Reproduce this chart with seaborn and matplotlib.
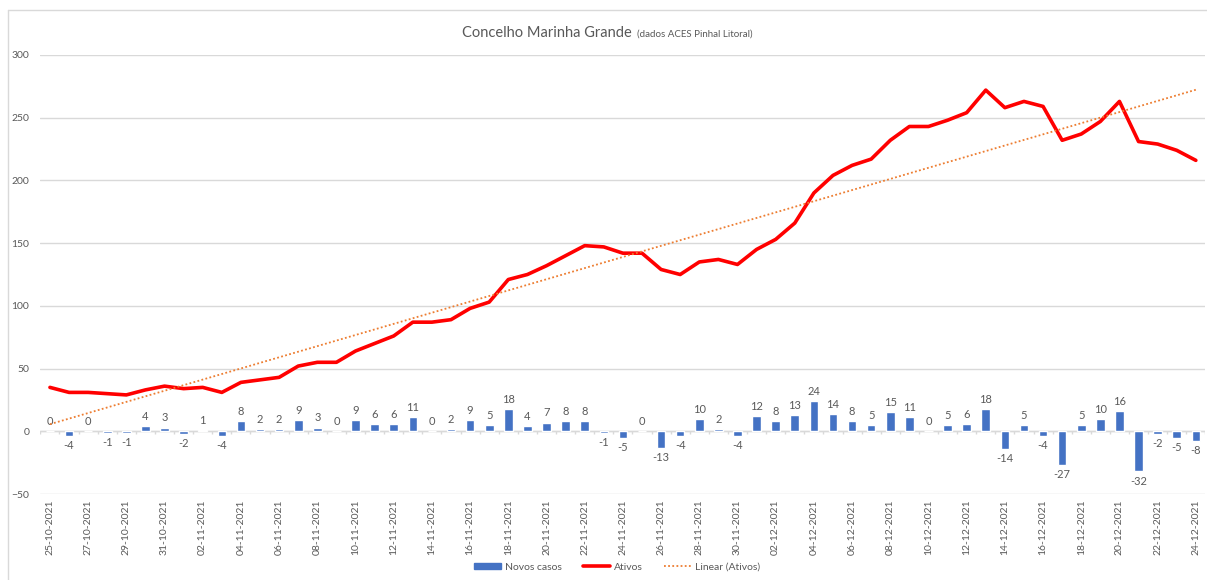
import numpy as np
import pandas as pd
import seaborn as sns
import matplotlib.pyplot as plt
from matplotlib.lines import Line2D
from matplotlib.patches import Patch

datas = pd.date_range('2021-10-25', '2021-12-24', freq='D').strftime('%d-%m-%Y').tolist()
novos_casos = [0, -4, 0, -1, -1, 4, 3, -2, 1, -4, 8, 2, 2, 9, 3, 0, 9, 6, 6, 11,
               0, 2, 9, 5, 18, 4, 7, 8, 8, -1, -5, 0, -13, -4, 10, 2, -4, 12, 8, 13,
               24, 14, 8, 5, 15, 11, 0, 5, 6, 18, -14, 5, -4, -27, 5, 10, 16, -32, -2, -5, -8]
ativos = [35, 31, 31, 30, 29, 33, 36, 34, 35, 31, 39, 41, 43, 52, 55, 55, 64, 70, 76, 87,
          87, 89, 98, 103, 121, 125, 132, 140, 148, 147, 142, 142, 129, 125, 135, 137, 133, 145, 153, 166,
          190, 204, 212, 217, 232, 243, 243, 248, 254, 272, 258, 263, 259, 232, 237, 247, 263, 231, 229, 224, 216]

AZUL = '#4472C4'
VERMELHO = '#FF0000'
LARANJA = '#ED7D31'
CINZA = '#595959'

sns.set_style('white')
plt.rcParams['font.family'] = ['Lato', 'DejaVu Sans']

df = pd.DataFrame({'data': datas, 'novos': novos_casos, 'ativos': ativos})
df['i'] = np.arange(len(df))
coef = np.polyfit(df['i'], df['ativos'], 1)
df['linear'] = np.polyval(coef, df['i'])

fig = plt.figure(figsize=(12.07, 5.8), dpi=100)
ax = fig.add_axes([40.4 / 1207, 86 / 580, 1165 / 1207, 439 / 580])

sns.barplot(data=df, x='i', y='novos', color=AZUL, width=0.45, saturation=1, ax=ax, zorder=3)
ax.bar_label(ax.containers[0], labels=[str(v) for v in novos_casos], padding=3,
             fontsize=8, color=CINZA)
sns.lineplot(data=df, x='i', y='ativos', color=VERMELHO, lw=2.6, ax=ax, zorder=4)
sns.lineplot(data=df, x='i', y='linear', color=LARANJA, lw=1.3, ls=(0, (1, 1.3)), ax=ax, zorder=5)

ax.set_xlim(-0.5, len(df) - 0.5)
ax.set_ylim(-50, 300)
ax.set_yticks(range(-50, 301, 50))
ax.yaxis.grid(True, color='#D9D9D9', lw=1)
ax.set_axisbelow(True)
for s in ax.spines.values():
    s.set_visible(False)

# eixo do zero com marcas entre categorias
ax.axhline(0, color='#D9D9D9', lw=1, zorder=2)
fronteiras = np.arange(len(df) + 1) - 0.5
ax.vlines(fronteiras, -1.8, 0, color='#D9D9D9', lw=1, zorder=2)

ax.set_xticks(df['i'][::2])
ax.set_xticklabels(df['data'][::2], rotation=90, fontsize=7.5, color=CINZA)
ax.tick_params(axis='y', labelsize=7.5, labelcolor=CINZA, length=0, pad=8)
ax.tick_params(axis='x', length=0, pad=4)
ax.set_xlabel('')
ax.set_ylabel('')

fig.text(632 / 1207, 1 - 37 / 580, 'Concelho Marinha Grande', ha='right', va='baseline',
         fontsize=10.5, color=CINZA)
fig.text(637 / 1207, 1 - 37 / 580, '(dados ACES Pinhal Litoral)', ha='left', va='baseline',
         fontsize=7, color=CINZA)

handles = [Patch(color=AZUL), Line2D([], [], color=VERMELHO, lw=2.6),
           Line2D([], [], color=LARANJA, lw=1.3, ls=(0, (1, 1.3)))]
fig.legend(handles, ['Novos casos', 'Ativos', 'Linear (Ativos)'], loc='center',
           bbox_to_anchor=(617 / 1207, 1 - 567 / 580), ncol=3, frameon=False,
           fontsize=7.5, labelcolor=CINZA, handlelength=2.6, handleheight=0.5,
           columnspacing=2.0, handletextpad=0.4)

# moldura do gráfico
fig.add_artist(Line2D([8 / 1207, 1], [1 - 10 / 580, 1 - 10 / 580], color='#D9D9D9', lw=1,
                      transform=fig.transFigure))
fig.add_artist(Line2D([8 / 1207, 8 / 1207], [0, 1 - 10 / 580], color='#D9D9D9', lw=1,
                      transform=fig.transFigure))

fig.savefig('out.png', dpi=100)
